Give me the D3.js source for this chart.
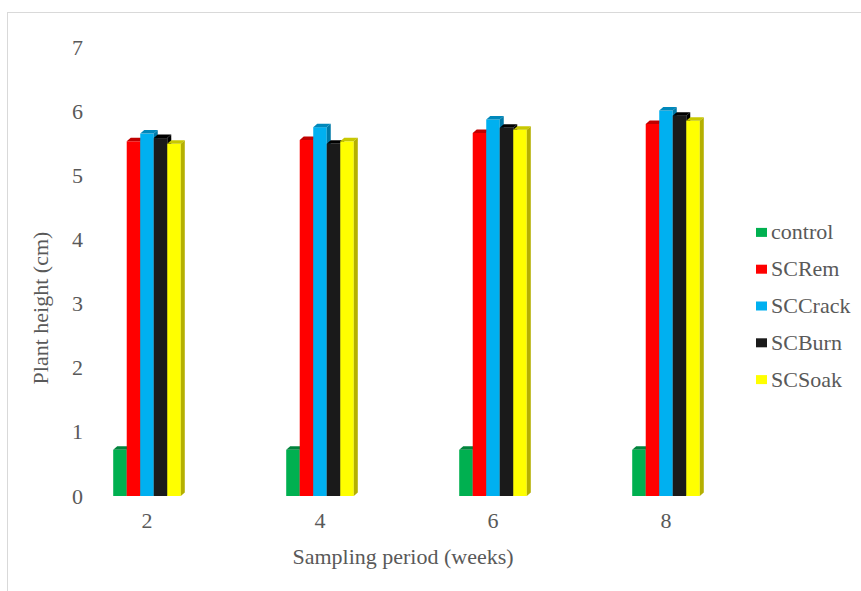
<!DOCTYPE html>
<html>
<head>
<meta charset="utf-8">
<script src="https://cdn.jsdelivr.net/npm/d3@7"></script>
<style>
  html, body { margin: 0; padding: 0; background: #fff; }
  svg { display: block; }
  svg text { font-family: "Liberation Serif", Tinos, "Times New Roman", Times, serif; fill: #595959; }
</style>
</head>
<body>
<svg id="chart" width="861" height="591"></svg>
<script>
const periods = ["2", "4", "6", "8"];
const seriesNames = ["control", "SCRem", "SCCrack", "SCBurn", "SCSoak"];
const control = [0.72, 0.72, 0.72, 0.72];
const scRem   = [5.53, 5.55, 5.66, 5.80];
const scCrack = [5.65, 5.75, 5.87, 6.01];
const scBurn  = [5.58, 5.49, 5.74, 5.93];
const scSoak  = [5.49, 5.53, 5.71, 5.85];
const yTicks = [0, 1, 2, 3, 4, 5, 6, 7];
const colors = ["#00b050", "#ff0000", "#00b0f0", "#1a1a1a", "#ffff00"];
const topColors = ["#00843c", "#c00000", "#0088bb", "#000000", "#c8c800"];
const sideColors = ["#007a37", "#b00000", "#007aa8", "#000000", "#b5b000"];

const seriesValues = [control, scRem, scCrack, scBurn, scSoak];
const FONT = '"Liberation Serif", Tinos, "Times New Roman", Times, serif';

const svg = d3.select("#chart");

// outer chart border
svg.append("rect")
  .attr("x", 7.5).attr("y", 12.5)
  .attr("width", 900).attr("height", 700)
  .attr("fill", "none").attr("stroke", "#d9d9d9").attr("stroke-width", 1);

const x0 = d3.scaleBand().domain(periods).range([60.5, 752.5]).paddingInner(0).paddingOuter(0);
const x1 = d3.scaleBand().domain(seriesNames).range([0, x0.bandwidth()]).paddingInner(0).paddingOuter(3.9);
const y = d3.scaleLinear().domain([0, 7]).range([496, 47]);

const depth = 4;

// bars (front, top and side faces for the 3-D look)
periods.forEach((p, pi) => {
  seriesNames.forEach((s, si) => {
    const v = seriesValues[si][pi];
    const xl = x0(p) + x1(s);
    const w = x1.bandwidth();
    const yt = y(v);
    const yb = y(0);
    const g = svg.append("g");
    g.append("rect").attr("x", xl).attr("y", yt).attr("width", w).attr("height", yb - yt)
      .attr("fill", colors[si]);
    g.append("path")
      .attr("d", `M${xl},${yt} L${xl + depth},${yt - depth + 0.5} L${xl + w + depth},${yt - depth + 0.5} L${xl + w},${yt} Z`)
      .attr("fill", topColors[si]);
    g.append("path")
      .attr("d", `M${xl + w},${yt} L${xl + w + depth},${yt - depth + 0.5} L${xl + w + depth},${yb - depth + 0.5} L${xl + w},${yb} Z`)
      .attr("fill", sideColors[si]);
  });
});

// y axis tick labels
const yAxis = d3.axisLeft(y).tickValues(yTicks).tickSize(0).tickPadding(0).tickFormat(d3.format("d"));
const yg = svg.append("g").attr("transform", "translate(83,0)").call(yAxis);
yg.attr("font-family", FONT);
yg.select(".domain").remove();
yg.selectAll("text").attr("font-size", 22).attr("fill", "#595959").attr("font-family", FONT);

// x axis tick labels
const xAxis = d3.axisBottom(x0).tickSize(0).tickPadding(0);
const xg = svg.append("g").attr("transform", "translate(0,512)").call(xAxis);
xg.attr("font-family", FONT);
xg.select(".domain").remove();
xg.selectAll("text").attr("font-size", 22).attr("fill", "#595959").attr("font-family", FONT);

// axis titles
svg.append("text")
  .attr("x", 403).attr("y", 564)
  .attr("text-anchor", "middle").attr("font-size", 22).attr("font-family", FONT)
  .text("Sampling period (weeks)");

svg.append("text")
  .attr("transform", "translate(40,308) rotate(-90)")
  .attr("text-anchor", "middle").attr("dominant-baseline", "central").attr("font-size", 22).attr("font-family", FONT)
  .text("Plant height (cm)");

// legend
const legendY = d3.scaleBand().domain(seriesNames).range([214, 398]);
const lg = svg.append("g");
seriesNames.forEach((s, i) => {
  const cy = legendY(s) + legendY.bandwidth() / 2;
  lg.append("rect").attr("x", 756).attr("y", cy - 4.5).attr("width", 11).attr("height", 9)
    .attr("fill", colors[i]);
  lg.append("text").attr("x", 771).attr("y", cy + 7).attr("font-size", 22).attr("font-family", FONT).text(s);
});
</script>
</body>
</html>
